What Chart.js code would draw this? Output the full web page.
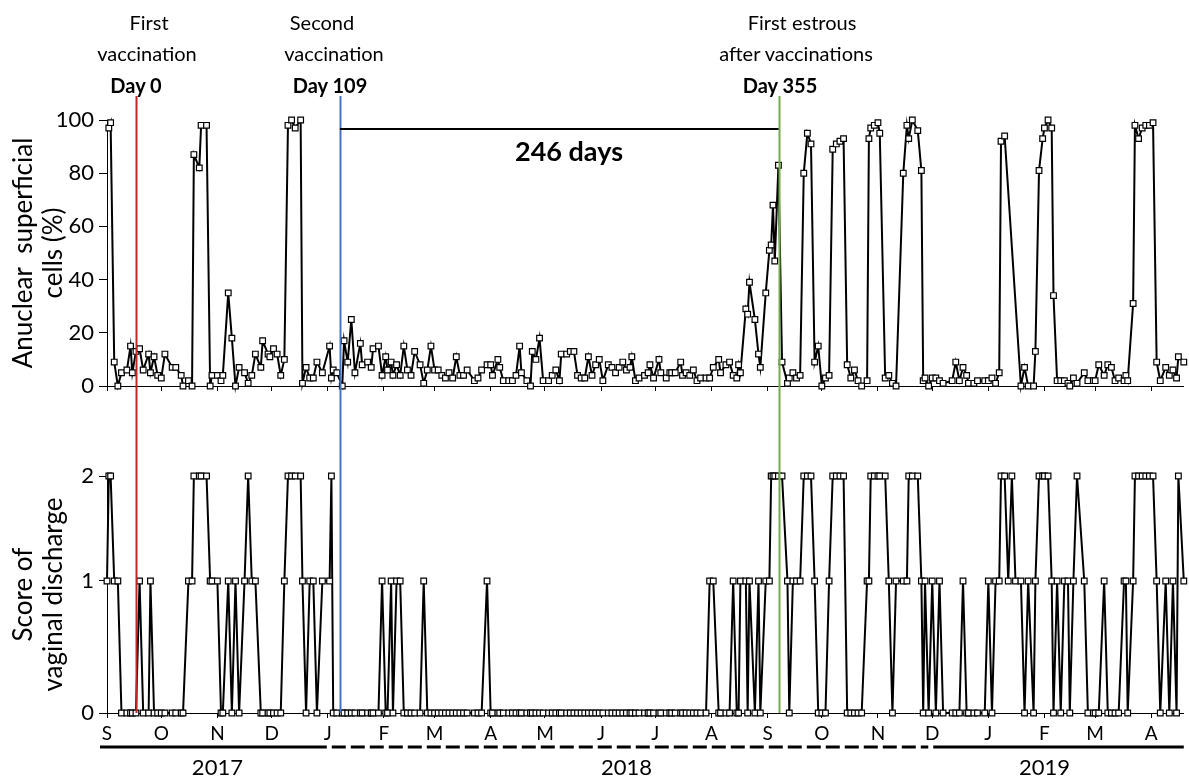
<!DOCTYPE html>
<html>
<head>
<meta charset="utf-8">
<script src="https://cdn.jsdelivr.net/npm/chart.js@4.4.1/dist/chart.umd.min.js"></script>
<style>
  html, body { margin: 0; padding: 0; background: #fff; }
  #wrap { position: relative; width: 1189px; height: 776px; overflow: hidden; font-family: Lato, sans-serif; color: #000; }
  canvas { position: absolute; left: 0; }
  #top { top: 0; }
  #bottom { top: 400px; }
  .lbl { position: absolute; transform: translate(-50%, -50%); white-space: nowrap; font-size: 20px; }
  .b { font-weight: bold; }
</style>
</head>
<body>
<div id="wrap">
  <canvas id="top" width="1189" height="400"></canvas>
  <canvas id="bottom" width="1189" height="376"></canvas>

  <div class="lbl" style="left:149px;top:22px">First</div>
  <div class="lbl" style="left:147px;top:53px">vaccination</div>
  <div class="lbl b" style="left:136px;top:85px">Day 0</div>

  <div class="lbl" style="left:322px;top:22px">Second</div>
  <div class="lbl" style="left:334px;top:53px">vaccination</div>
  <div class="lbl b" style="left:330px;top:85px">Day 109</div>

  <div class="lbl" style="left:802px;top:22px">First estrous</div>
  <div class="lbl" style="left:796px;top:53px">after vaccinations</div>
  <div class="lbl b" style="left:780px;top:85px">Day 355</div>

  <div class="lbl b" style="left:569px;top:150px;font-size:27px">246 days</div>
</div>

<script>
// sampling days, counted from 1 Sep 2017
const days = [
  0, 1, 2, 4, 6, 8, 11, 13, 14, 16, 18, 20, 23, 24, 26, 28,
  30, 32, 36, 38, 41, 42, 45, 47, 48, 51, 52, 55, 57, 58,
  61, 63, 64, 67, 69, 71, 73, 76, 78, 80, 82, 85, 86, 89,
  90, 92, 94, 96, 98, 100, 102, 104, 107, 108, 110, 112, 114, 116, 119,
  123, 124, 125, 127, 130, 131, 133, 135, 137, 140, 141, 144, 146, 147, 150,
  152, 154, 155, 157, 158, 160, 162, 164, 166, 168, 170, 173, 175, 177, 179,
  181, 183, 185, 187, 189, 191, 193, 195, 197, 199, 203, 205, 207, 210,
  212, 213, 216, 217, 219, 222, 224, 226, 228, 229, 232, 234, 235, 237, 239,
  241, 244, 246, 248, 250, 251, 254, 256, 258, 260, 262, 264, 266, 268, 270,
  272, 274, 277, 279, 281, 283, 285, 287, 289, 290, 292, 294, 297, 299,
  300, 302, 305, 306, 309, 311, 312, 314, 317, 318, 320, 322, 324, 326, 328, 331,
  333, 335, 338, 339, 342, 344, 346, 348, 349, 350, 353, 354, 355, 358, 360, 361,
  364, 366, 367, 368, 369, 371, 373, 376, 377, 379, 381, 383, 385, 387, 389, 391, 393,
  395, 397, 399, 401, 403, 405, 407, 409, 411, 413, 415, 417, 420, 421, 422, 424,
  426, 427, 430, 432, 434, 436, 440, 442, 443, 445, 448, 450, 451, 452, 454,
  456, 458, 460, 462, 467, 469, 471, 473, 475, 476, 479, 481, 485,
  487, 489, 491, 493, 494, 496, 498, 500, 502, 505, 507, 509, 512, 513, 515, 517,
  518, 520, 522, 523, 525, 527, 529, 531, 532, 534, 536, 540, 542, 545,
  546, 548, 551, 553, 555, 557, 559, 562, 563, 564, 567, 568, 570, 572, 574,
  576, 578, 580, 582, 585, 587, 589, 591, 592, 595
];

// anuclear superficial cells (%), null = not sampled
const cellsPct = [
  null, 97, 99, 9, 0, 5, 6, 15, 5, 13, 14, 6, 12, 5, 11, 4,
  3, 12, 7, 7, 4, 0, 2, 0, 87, 82, 98, 98, 0, 4,
  4, 2, 4, 35, 18, 0, 7, 5, 1, 4, 12, 7, 17, 12,
  11, 14, 12, 4, 10, 98, 100, 97, 100, 1, 7, 3, 3, 9, 5,
  15, 3, 6, 5, 0, 17, 9, 25, 5, 16, 8, 9, 7, 14, 15,
  4, 11, 6, 9, 4, 8, 4, 15, 6, 4, 13, 8, 1, 6, 15,
  6, 6, 4, 3, 5, 3, 11, 4, 4, 6, 2, 3, 6, 8,
  8, 4, 10, 7, 2, 2, 2, 4, 15, 5, 2, 0, 13, 10, 18,
  2, 2, 4, 6, 2, 12, 12, 13, 13, 4, 3, 3, 11, 4, 8,
  10, 2, 8, 7, 5, 7, 9, 6, 7, 11, 2, 3, 4, 5,
  8, 3, 10, 5, 3, 5, 5, 5, 9, 4, 5, 4, 6, 2, 3, 3,
  3, 7, 10, 5, 8, 9, 4, 3, 8, 5, 29, 27, 39, 25, 12, 7,
  35, 51, 53, 68, 47, 83, 9, 1, 3, 5, 3, 4, 80, 95, 91, 9, 15,
  0, 3, 4, 89, 91, 92, 93, 8, 3, 6, 2, 0, 2, 93, 97, 98,
  99, 95, 3, 4, 1, 0, 80, 98, 93, 100, 96, 81, 2, 3, 0,
  3, 3, 2, 1, 2, 9, 2, 7, 4, 1, 1, 2, 2,
  2, 3, 1, 5, 92, 94, null, null, null, 0, 7, 0, 0, 13, 81, 93,
  97, 100, 97, 34, 2, 2, 2, 1, 0, 3, 1, 5, 2, 2,
  2, 8, 4, 8, 7, 2, 3, 2, 4, 2, 31, 98, 93, 97, 98,
  98, 99, 9, 2, 7, 4, 6, 3, 11, 9
];

// score of vaginal discharge (0-2)
const dischargeScore = [
  1, 2, 2, 1, 1, 0, 0, 0, 0, 0, 1, 0, 0, 1, 0, 0,
  0, 0, 0, 0, 0, 0, 1, 1, 2, 2, 2, 2, 1, 1,
  1, 0, 0, 1, 0, 1, 0, 1, 2, 1, 1, 0, 0, 0,
  0, 0, 0, 0, 1, 2, 2, 2, 2, 1, 0, 1, 1, 0, 1,
  1, 2, 0, 0, 0, 0, 0, 0, 0, 0, 0, 0, 0, 0, 0,
  1, 0, 0, 1, 0, 1, 1, 0, 0, 0, 0, 0, 1, 0, 0,
  0, 0, 0, 0, 0, 0, 0, 0, 0, 0, 0, 0, 0, 1,
  0, 0, 0, 0, 0, 0, 0, 0, 0, 0, 0, 0, 0, 0, 0,
  0, 0, 0, 0, 0, 0, 0, 0, 0, 0, 0, 0, 0, 0, 0,
  0, 0, 0, 0, 0, 0, 0, 0, 0, 0, 0, 0, 0, 0,
  0, 0, 0, 0, 0, 0, 0, 0, 0, 0, 0, 0, 0, 0, 0, 0,
  1, 1, 0, 0, 0, 0, 1, 0, 0, 1, 1, 0, 1, 0, 1, 0,
  1, 1, 2, 2, 2, 2, 2, 1, 0, 1, 1, 1, 2, 2, 2, 1, 0,
  0, 0, 1, 2, 2, 2, 2, 0, 0, 0, 0, 0, 1, 1, 2, 2,
  2, 2, 2, 1, 0, 1, 1, 1, 2, 2, 2, 1, 0, 1, 0,
  1, 0, 1, 0, 0, 0, 0, 1, 0, 0, 0, 0, 0,
  1, 0, 1, 1, 2, 2, 1, 2, 1, 1, 0, 1, 0, 1, 2, 2,
  2, 2, 1, 0, 1, 0, 1, 1, 0, 1, 2, 1, 0, 0,
  0, 0, 1, 0, 0, 0, 0, 1, 1, 0, 1, 2, 2, 2, 2,
  2, 2, 1, 0, 1, 0, 1, 0, 2, 1
];

const monthStarts = [0, 30, 61, 91, 122, 153, 181, 212, 242, 273, 303, 334, 365, 395, 426, 456, 487, 518, 546, 577];
const monthLabels = ['S', 'O', 'N', 'D', 'J', 'F', 'M', 'A', 'M', 'J', 'J', 'A', 'S', 'O', 'N', 'D', 'J', 'F', 'M', 'A'];
const yearLabels = ['2017', '2018', '2019'];

// day 0, day 109, day 355 as drawn on the time axis
const eventDays = [16.3, 128.7, 371.1];
const eventColors = ['#c0262d', '#4472c4', '#70ad47'];

const FONT = 'Lato';

// the score axis in the figure gives the 0-1 step more room than the 1-2 step
class ScoreScale extends Chart.LinearScale {
  static id = 'score';
  static defaults = Chart.LinearScale.defaults;
  toDecimal(v) {
    return v <= 1 ? v * 0.557 : 0.557 + (v - 1) * 0.443;
  }
  getPixelForValue(v) {
    return v === null || isNaN(v) ? NaN : this.getPixelForDecimal(this.toDecimal(v));
  }
  getValueForPixel(p) {
    const d = this.getDecimalForPixel(p);
    return d <= 0.557 ? d / 0.557 : 1 + (d - 0.557) / 0.443;
  }
}
Chart.register(ScoreScale);

const eventLines = {
  id: 'eventLines',
  afterDatasetsDraw(chart, args, opts) {
    const { ctx, scales: { x } } = chart;
    const y0 = opts.from, y1 = opts.to === 'area' ? chart.chartArea.bottom : chart.height;
    ctx.save();
    ctx.lineWidth = 2;
    eventDays.forEach((d, i) => {
      const px = Math.round(x.getPixelForValue(d)) + 0.5;
      ctx.strokeStyle = eventColors[i];
      ctx.beginPath();
      ctx.moveTo(px, y0);
      ctx.lineTo(px, y1);
      ctx.stroke();
    });
    // interval bracket between 2nd vaccination and first estrous
    if (opts.bracket) {
      const yy = chart.scales.y.getPixelForValue(96.6);
      ctx.strokeStyle = '#000';
      ctx.beginPath();
      ctx.moveTo(x.getPixelForValue(eventDays[1]), yy);
      ctx.lineTo(x.getPixelForValue(eventDays[2]), yy);
      ctx.stroke();
    }
    ctx.restore();
  }
};

const yearBar = {
  id: 'yearBar',
  afterDraw(chart) {
    const { ctx, scales: { x }, chartArea } = chart;
    const ly = chartArea.bottom + 34;
    const jan18 = x.getPixelForValue(122), dec18 = x.getPixelForValue(456);
    ctx.save();
    ctx.strokeStyle = '#000';
    ctx.lineWidth = 3;
    ctx.beginPath();
    ctx.moveTo(chartArea.left - 7, ly); ctx.lineTo(jan18 - 1, ly);
    ctx.moveTo(dec18 + 1, ly); ctx.lineTo(chartArea.right, ly);
    ctx.stroke();
    ctx.setLineDash([14, 5]);
    ctx.beginPath();
    ctx.moveTo(jan18 + 4, ly); ctx.lineTo(dec18 - 4, ly);
    ctx.stroke();
    ctx.setLineDash([]);
    ctx.fillStyle = '#000';
    ctx.font = '22px ' + FONT;
    ctx.textAlign = 'center';
    ctx.textBaseline = 'middle';
    [61, 287, 518].forEach((d, i) => ctx.fillText(yearLabels[i], x.getPixelForValue(d), ly + 21));
    ctx.restore();
  }
};

function seriesStyle(values) {
  return {
    data: days.map((d, i) => ({ x: d, y: values[i] })),
    borderColor: '#000',
    borderWidth: 2,
    pointStyle: 'rect',
    pointRadius: 4,
    pointBorderWidth: 1.2,
    pointBackgroundColor: '#fff',
    pointBorderColor: '#000',
    spanGaps: true,
    clip: false,
    tension: 0
  };
}

function xScale(showLabels, height) {
  return {
    type: 'linear',
    min: 0,
    max: 595,
    afterBuildTicks(s) { s.ticks = monthStarts.map(v => ({ value: v })); },
    afterFit(s) { s.height = height; s.paddingLeft = 0; s.paddingRight = 0; },
    ticks: {
      display: showLabels,
      autoSkip: false,
      maxRotation: 0,
      padding: 4,
      color: '#000',
      font: { family: FONT, size: 19 },
      callback: (v, i) => monthLabels[i]
    },
    grid: { drawOnChartArea: false, color: '#000', tickLength: 5 },
    border: { color: '#000', width: 1 }
  };
}

function yScale(type, min, max, step, title) {
  return {
    type, min, max,
    afterFit(s) { s.width = 107; s.paddingTop = 0; s.paddingBottom = 0; },
    ticks: { stepSize: step, padding: 5, color: '#000', font: { family: FONT, size: 22 } },
    grid: { drawOnChartArea: false, color: '#000', tickLength: 8 },
    border: { color: '#000', width: 1 },
    title: {
      display: true,
      text: title,
      color: '#000',
      font: { family: FONT, size: 26, lineHeight: 1.18 },
      padding: { top: 8, bottom: 0 }
    }
  };
}

const common = {
  responsive: false,
  animation: false,
  events: [],
  plugins: { legend: { display: false }, tooltip: { enabled: false } }
};

new Chart(document.getElementById('top'), {
  type: 'line',
  data: { datasets: [seriesStyle(cellsPct)] },
  options: {
    ...common,
    layout: { padding: { top: 120, right: 0, bottom: 0, left: 0 } },
    scales: {
      x: xScale(false, 14),
      y: yScale('linear', 0, 100, 20, ['Anuclear  superficial', 'cells (%)'])
    },
    plugins: { ...common.plugins, eventLines: { from: 96, to: 'canvas', bracket: true } }
  },
  plugins: [eventLines]
});

new Chart(document.getElementById('bottom'), {
  type: 'line',
  data: { datasets: [seriesStyle(dischargeScore)] },
  options: {
    ...common,
    layout: { padding: { top: 76, right: 0, bottom: 0, left: 0 } },
    scales: {
      x: xScale(true, 63),
      y: yScale('score', 0, 2, 1, ['Score of', 'vaginal discharge'])
    },
    plugins: { ...common.plugins, eventLines: { from: 0, to: 'area', bracket: false } }
  },
  plugins: [eventLines, yearBar]
});
</script>
</body>
</html>
